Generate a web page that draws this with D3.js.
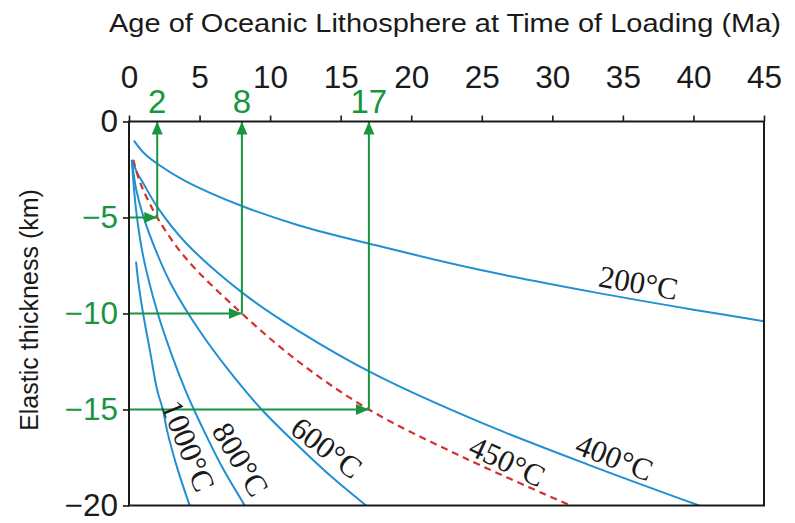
<!DOCTYPE html>
<html>
<head>
<meta charset="utf-8">
<script src="https://cdn.jsdelivr.net/npm/d3@7"></script>
<style>
  body { margin: 0; background: #fff; }
  svg { display: block; }
</style>
</head>
<body>
<svg id="chart" width="795" height="523"></svg>
<script>
// Axis ticks
const ageTicks = [0, 5, 10, 15, 20, 25, 30, 35, 40, 45];
const thicknessTicks = [0, -5, -10, -15, -20];

const markedAges = [2, 8, 17];
const markedThickness = [-5, -10, -15];

// Isotherm depths: [age (Ma), elastic thickness (km)]
const iso200 = [[0.35, -1.0], [1, -1.6], [2, -2.2], [4, -3.1], [8, -4.4], [12, -5.4],
                [17.5, -6.45], [25, -7.75], [33, -8.9], [40, -9.8], [45, -10.4]];
const iso400 = [[0.2, -2.0], [0.6, -2.7], [1, -3.2], [2, -4.45], [4, -6.3], [8, -8.9],
                [12, -10.9], [17.5, -13.2], [25, -15.7], [33, -18.0], [40.4, -20]];
const iso450 = [[0.3, -2.0], [0.7, -3.0], [1, -3.55], [2, -5.0], [4, -7.1], [8, -10.0],
                [12, -12.5], [17, -15.0], [24, -17.6], [31.3, -20]];
const iso600 = [[0.2, -2.0], [0.5, -3.5], [1, -4.9], [2, -6.9], [3, -8.5], [5, -10.9],
                [7, -12.9], [9.4, -15.0], [12, -16.9], [14.5, -18.6], [16.8, -20]];
const iso800 = [[0.2, -2.0], [0.5, -4.6], [1, -7.0], [2, -9.9], [3, -12.1], [4, -14.0],
                [4.6, -15.0], [5.5, -16.4], [6.6, -18.0], [8.2, -20]];
const iso1000 = [[0.5, -7.3], [0.65, -8.3], [1.0, -10], [1.5, -12], [2.0, -14], [2.4, -15],
                 [2.7, -16.1], [3.4, -18], [4.3, -20]];

const isotherms = [
  { label: "200°C", points: iso200, dashed: false },
  { label: "400°C", points: iso400, dashed: false },
  { label: "450°C", points: iso450, dashed: true },
  { label: "600°C", points: iso600, dashed: false },
  { label: "800°C", points: iso800, dashed: false },
  { label: "1000°C", points: iso1000, dashed: false }
];

const BLUE = "#2190d3", RED = "#d2312f", GREEN = "#17963f", INK = "#1a1a1a";
const SANS = "'Liberation Sans', Arial, Helvetica, sans-serif";
const SERIF = "'Liberation Serif', 'Times New Roman', Times, serif";

const svg = d3.select("#chart");
const plot = { left: 129, right: 764, top: 121.5, bottom: 505.5 };

const x = d3.scaleLinear().domain([0, 45]).range([plot.left, plot.right]);
const y = d3.scaleLinear().domain([0, -20]).range([plot.top, plot.bottom]);

const defs = svg.append("defs");
defs.append("clipPath").attr("id", "plotClip")
  .append("rect")
  .attr("x", plot.left).attr("y", plot.top)
  .attr("width", plot.right - plot.left).attr("height", plot.bottom - plot.top);

defs.append("marker")
  .attr("id", "arrowHead")
  .attr("viewBox", "0 0 13 12")
  .attr("refX", 13).attr("refY", 6)
  .attr("markerWidth", 13).attr("markerHeight", 12)
  .attr("markerUnits", "userSpaceOnUse")
  .attr("orient", "auto")
  .append("path")
  .attr("d", "M0,0.5L13,6L0,11.5Z")
  .attr("fill", GREEN);

// Title
svg.append("text")
  .attr("x", 109).attr("y", 32)
  .attr("font-family", SANS).attr("font-size", 26.5)
  .attr("textLength", 672).attr("lengthAdjust", "spacingAndGlyphs")
  .attr("fill", INK)
  .text("Age of Oceanic Lithosphere at Time of Loading (Ma)");

// Y axis title
svg.append("text")
  .attr("transform", "translate(38," + 310 + ") rotate(-90)")
  .attr("text-anchor", "middle")
  .attr("font-family", SANS).attr("font-size", 25)
  .attr("fill", INK)
  .text("Elastic thickness (km)");

// Top axis
const topAxis = svg.append("g")
  .attr("transform", "translate(0," + plot.top + ")")
  .call(d3.axisTop(x).tickValues(ageTicks).tickSize(6).tickPadding(27.5).tickFormat(d3.format("d")));
topAxis.select(".domain").remove();
topAxis.selectAll(".tick line").attr("stroke", INK).attr("stroke-width", 1.6);
topAxis.selectAll(".tick text")
  .attr("font-family", SANS).attr("font-size", 31.5).attr("fill", INK);

// Left axis
const markedSet = new Set(markedThickness);
const leftAxis = svg.append("g")
  .attr("transform", "translate(" + plot.left + ",0)")
  .call(d3.axisLeft(y).tickValues(thicknessTicks).tickSize(6).tickPadding(5));
leftAxis.select(".domain").remove();
leftAxis.selectAll(".tick line").attr("stroke", INK).attr("stroke-width", 1.6);
leftAxis.selectAll(".tick text")
  .attr("font-family", SANS).attr("font-size", 31.5)
  .attr("fill", d => markedSet.has(d) ? GREEN : INK);

// Isotherm curves
const line = d3.line()
  .x(d => x(d[0]))
  .y(d => y(d[1]))
  .curve(d3.curveCatmullRom.alpha(0.5));

const curves = svg.append("g").attr("clip-path", "url(#plotClip)");
curves.selectAll("path")
  .data(isotherms)
  .join("path")
  .attr("d", d => line(d.points))
  .attr("fill", "none")
  .attr("stroke", d => d.dashed ? RED : BLUE)
  .attr("stroke-width", d => d.dashed ? 2.2 : 2)
  .attr("stroke-dasharray", d => d.dashed ? "7,5" : null);

// Reading arrows: thickness -> 450°C isotherm -> age
const reads = markedAges.map((a, i) => ({ age: a, thick: markedThickness[i] }));
const arrows = svg.append("g").attr("stroke", GREEN).attr("stroke-width", 2).attr("fill", "none");
arrows.selectAll("line.h")
  .data(reads).join("line").attr("class", "h")
  .attr("x1", x(0)).attr("y1", d => y(d.thick))
  .attr("x2", d => x(d.age)).attr("y2", d => y(d.thick))
  .attr("marker-end", "url(#arrowHead)");
arrows.selectAll("line.v")
  .data(reads).join("line").attr("class", "v")
  .attr("x1", d => x(d.age)).attr("y1", d => y(d.thick))
  .attr("x2", d => x(d.age)).attr("y2", y(0))
  .attr("marker-end", "url(#arrowHead)");

svg.append("g").selectAll("text")
  .data(reads).join("text")
  .attr("x", d => x(d.age)).attr("y", 113)
  .attr("text-anchor", "middle")
  .attr("font-family", SANS).attr("font-size", 33)
  .attr("fill", GREEN)
  .text(d => d.age);

// Frame
svg.append("rect")
  .attr("x", plot.left).attr("y", plot.top)
  .attr("width", plot.right - plot.left).attr("height", plot.bottom - plot.top)
  .attr("fill", "none").attr("stroke", INK).attr("stroke-width", 2);

// Isotherm labels, set along each curve
const labelPlacement = {
  "200°C": { age: 36.1, thick: -8.4, angle: 10 },
  "400°C": { age: 34.4, thick: -17.5, angle: 21 },
  "450°C": { age: 26.8, thick: -17.7, angle: 25 },
  "600°C": { age: 14.0, thick: -17.0, angle: 37 },
  "800°C": { age: 7.9, thick: -17.6, angle: 59 },
  "1000°C": { age: 4.2, thick: -16.9, angle: 68 }
};
svg.append("g").selectAll("text")
  .data(isotherms).join("text")
  .attr("transform", d => {
    const p = labelPlacement[d.label];
    return "translate(" + x(p.age) + "," + y(p.thick) + ") rotate(" + p.angle + ")";
  })
  .attr("text-anchor", "middle")
  .attr("dominant-baseline", "central")
  .attr("font-family", SERIF).attr("font-size", 31)
  .attr("fill", INK)
  .text(d => d.label);
</script>
</body>
</html>
